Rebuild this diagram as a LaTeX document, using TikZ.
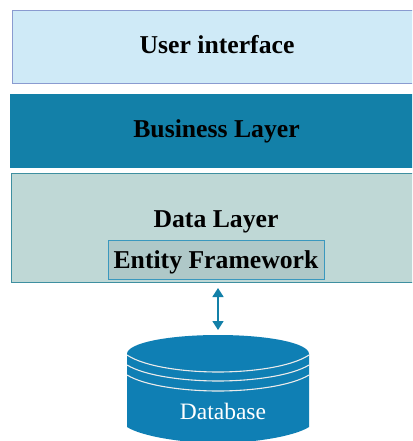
\documentclass[tikz,border=0pt]{standalone}
\usepackage{fontspec}
\setmainfont{Liberation Serif}
\usetikzlibrary{arrows.meta}
\definecolor{uifill}{HTML}{CFEAF7}
\definecolor{uiline}{HTML}{8A9BD0}
\definecolor{bizfill}{HTML}{1380A8}
\definecolor{datafill}{HTML}{BFD8D6}
\definecolor{dataline}{HTML}{3E8FA0}
\definecolor{effill}{HTML}{AFC8C8}
\definecolor{efline}{HTML}{3A98BE}
\definecolor{dbfill}{HTML}{0F7FB4}
\tikzset{
  layer/.style={anchor=north west,minimum width=#1,inner sep=0pt,outer sep=0pt},
  lab/.style={font=\bfseries\fontsize{25.7}{28}\selectfont,text=black,inner sep=0pt},
  ring/.style={draw=white!92!black,line width=1.1pt},
  link/.style={draw=bizfill,line width=1.6pt,{Triangle[length=9pt,width=11pt]}-{Triangle[length=9pt,width=11pt]}}
}
\begin{document}
\begin{tikzpicture}[x=1pt,y=-1pt]
\useasboundingbox (0,0) rectangle (412,441);
\clip (0,0) rectangle (412,441);
\fill[white] (0,0) rectangle (412,441);
\node[layer=410pt,minimum height=73pt,fill=uifill,draw=uiline,line width=.8pt] (ui) at (12,10.5) {};
\node[lab,anchor=base] (uilab) at (217,54) {User interface};
\node[layer=410pt,minimum height=74pt,fill=bizfill] (biz) at (10,94) {};
\node[lab,anchor=base] (bizlab) at (216.5,137) {Business Layer};
\node[layer=410pt,minimum height=109pt,fill=datafill,draw=dataline,line width=.8pt] (data) at (11,173.5) {};
\node[lab,anchor=base] (datalab) at (216,227) {Data Layer};
\node[lab,minimum width=216pt,minimum height=39pt,text height=17pt,text depth=0pt,fill=effill,draw=efline,line width=.8pt] (ef) at (216,259.5) {Entity Framework};
\coordinate (linktop) at (218,288);
\coordinate (linkbot) at (218,330);
\draw[link] (linktop) -- (linkbot);
% database cylinder
\fill[dbfill] (127,354) .. controls (127,343) and (168,335) .. (218,335)
  .. controls (268,335) and (309,343) .. (309,354)
  -- (309,427) .. controls (295,436) and (255,443) .. (218,443)
  .. controls (181,443) and (141,436) .. (127,427) -- cycle;
\draw[ring] (127,355) .. controls (145,367) and (185,372) .. (218,372) .. controls (251,372) and (291,367) .. (309,355);
\draw[ring] (127,365) .. controls (145,376) and (185,381) .. (218,381) .. controls (251,381) and (291,376) .. (309,365);
\draw[ring] (127,375) .. controls (145,386) and (185,391) .. (218,391) .. controls (251,391) and (291,386) .. (309,375);
\node[font=\fontsize{23.5}{26}\selectfont,text=white,anchor=base,inner sep=0pt] (db) at (223,419) {Database};
\end{tikzpicture}
\end{document}
